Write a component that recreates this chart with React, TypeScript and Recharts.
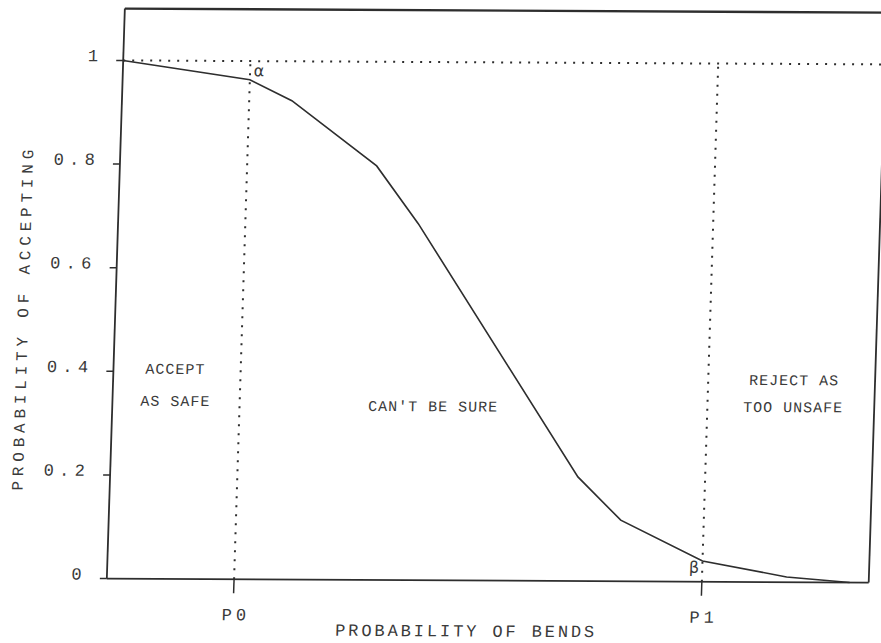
import React from 'react';
import { LineChart, Line, XAxis, YAxis, ReferenceLine } from 'recharts';

// Operating characteristic curve
const bendProbability = [0, 16.7, 22.3, 33.7, 39.4, 61.4, 67.2, 78.1, 89.2, 97.5];
const acceptProbability = [1.0, 0.964, 0.924, 0.799, 0.688, 0.201, 0.118, 0.04, 0.01, 0.0];

const xTickValues = [16.7, 78.1];
const xTickLabels = ['P0', 'P1'];
const yTickValues = [0, 0.2, 0.4, 0.6, 0.8, 1];
const yTickLabels = ['0', '0.2', '0.4', '0.6', '0.8', '1'];

const P0 = 16.7;
const P1 = 78.1;
const Y_MAX = 1.1;

const xTitle = 'PROBABILITY OF BENDS';
const yTitle = 'PROBABILITY OF ACCEPTING';
const regionLeft = ['ACCEPT', 'AS SAFE'];
const regionMiddle = ["CAN'T BE SURE"];
const regionRight = ['REJECT AS', 'TOO UNSAFE'];

const data = bendProbability.map((x, i) => ({ x, y: acceptProbability[i] }));

const INK = '#2e2e2e';
const TEXT_INK = '#3a3a3a';
const FONT = '"Liberation Mono", "DejaVu Sans Mono", monospace';

const XTick = (props: any) => {
  const { x, y, payload } = props;
  const i = xTickValues.indexOf(payload.value);
  return (
    <text x={x + 3} y={y + 27} textAnchor="middle" fontFamily={FONT} fontSize={17}
      letterSpacing={4} fill={TEXT_INK}>
      {xTickLabels[i]}
    </text>
  );
};

const YTick = (props: any) => {
  const { x, y, payload } = props;
  const i = yTickValues.indexOf(payload.value);
  return (
    <text x={x} y={y + 1} textAnchor="end" fontFamily={FONT} fontSize={17}
      letterSpacing={5.3} fill={TEXT_INK}>
      {yTickLabels[i]}
    </text>
  );
};

const regionStyle = {
  fontFamily: FONT,
  fontSize: 15,
  letterSpacing: 1.0,
  fill: TEXT_INK,
} as const;

export default function App() {
  return (
    <div
      style={{
        position: 'absolute',
        left: 0,
        top: 0,
        width: 881,
        height: 643,
        background: '#fff',
        transform: 'skewX(-1.81deg) skewY(0.3deg)',
        transformOrigin: '0px 320px',
      }}
    >
      <LineChart width={881} height={643} data={data}
        margin={{ top: 8, right: 4, bottom: 0, left: 0 }}>
        <XAxis
          type="number"
          dataKey="x"
          domain={[0, 100]}
          ticks={xTickValues}
          height={65}
          tickSize={14}
          tickMargin={0}
          tick={XTick}
          interval={0}
          axisLine={{ stroke: INK, strokeWidth: 1.8 }}
          tickLine={{ stroke: INK, strokeWidth: 1.5 }}
        />
        <YAxis
          type="number"
          domain={[0, Y_MAX]}
          ticks={yTickValues}
          width={115}
          tickSize={7}
          tickMargin={13}
          tick={YTick}
          interval={0}
          axisLine={{ stroke: INK, strokeWidth: 1.8 }}
          tickLine={{ stroke: INK, strokeWidth: 1.5 }}
        />
        <ReferenceLine y={Y_MAX} stroke={INK} strokeWidth={2.4} />
        <ReferenceLine x={100} stroke={INK} strokeWidth={1.8} />
        <ReferenceLine y={1} stroke={INK} strokeWidth={2} strokeDasharray="2 7" />
        <ReferenceLine segment={[{ x: P0, y: 0 }, { x: P0, y: 1 }]} stroke={INK}
          strokeWidth={2} strokeDasharray="2 7" />
        <ReferenceLine segment={[{ x: P1, y: 0 }, { x: P1, y: 1 }]} stroke={INK}
          strokeWidth={2} strokeDasharray="2 7" />
        <Line type="linear" dataKey="y" stroke={INK} strokeWidth={1.6} dot={false}
          isAnimationActive={false} />

        <g>
          <text x={476} y={634} textAnchor="middle" fontFamily={FONT} fontSize={17}
            letterSpacing={2.9} fill={TEXT_INK}>{xTitle}</text>
          <text x={28} y={320} dx={2.4} textAnchor="middle" fontFamily={FONT} fontSize={16}
            letterSpacing={4.8} fill={TEXT_INK}
            transform="rotate(-90, 28, 320)">{yTitle}</text>

          <text x={177} y={373} textAnchor="middle" {...regionStyle}>{regionLeft[0]}</text>
          <text x={178} y={405} textAnchor="middle" {...regionStyle}>{regionLeft[1]}</text>
          <text x={436} y={409} textAnchor="middle" {...regionStyle}>{regionMiddle[0]}</text>
          <text x={796} y={381} textAnchor="middle" {...regionStyle}>{regionRight[0]}</text>
          <text x={796} y={408} textAnchor="middle" {...regionStyle}>{regionRight[1]}</text>

          <text x={251} y={75} textAnchor="middle" fontFamily="DejaVu Sans" fontSize={16}
            fill={TEXT_INK}>α</text>
          <text x={707} y={569} textAnchor="end" fontFamily="DejaVu Sans" fontSize={16}
            fill={TEXT_INK}>β</text>
        </g>
      </LineChart>
    </div>
  );
}
